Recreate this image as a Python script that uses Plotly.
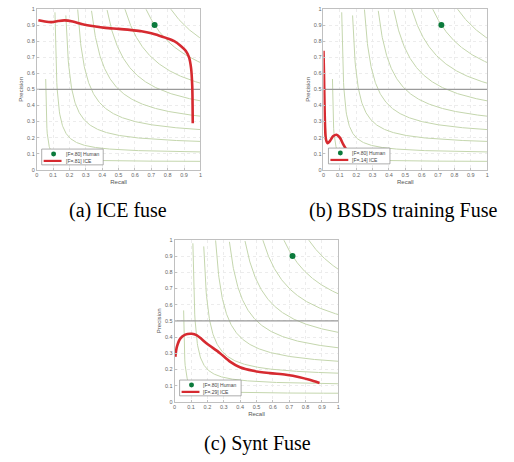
import numpy as np
import plotly.graph_objects as go

# Iso-F contour levels
f_levels = [0.1, 0.2, 0.3, 0.4, 0.5, 0.6, 0.7, 0.8, 0.9]

# Human agreement point
human_recall = [0.72]
human_precision = [0.90]
human_label = "[F=.80] Human"

# (a) ICE fuse
ice_recall = [0.01, 0.05, 0.09, 0.13, 0.17, 0.22, 0.28, 0.35, 0.42, 0.50, 0.58, 0.64,
              0.70, 0.74, 0.79, 0.84, 0.88, 0.91, 0.93, 0.943, 0.950, 0.952, 0.953]
ice_precision = [0.93, 0.922, 0.918, 0.925, 0.929, 0.922, 0.905, 0.892, 0.882, 0.876, 0.868, 0.861,
                 0.849, 0.837, 0.82, 0.80, 0.77, 0.74, 0.70, 0.63, 0.52, 0.40, 0.29]

# (b) BSDS training fuse
bsds_recall = [0.0, 0.003, 0.006, 0.01, 0.015, 0.025, 0.04, 0.06, 0.08, 0.10, 0.12, 0.14]
bsds_precision = [0.74, 0.60, 0.42, 0.26, 0.19, 0.165, 0.18, 0.21, 0.218, 0.20, 0.16, 0.125]

# (c) Synt fuse
synt_recall = [0.004, 0.014, 0.034, 0.065, 0.105, 0.136, 0.196, 0.277, 0.338, 0.399, 0.48,
               0.58, 0.68, 0.763, 0.824, 0.885]
synt_precision = [0.278, 0.34, 0.39, 0.415, 0.42, 0.41, 0.36, 0.30, 0.248, 0.213, 0.191,
                  0.177, 0.167, 0.152, 0.136, 0.116]

panels = [
    dict(name="(a) ICE fuse", f="[F=.81] ICE", r=ice_recall, p=ice_precision,
         dom_x=[35, 200], dom_y=[6, 169], leg=(40, 148), cap=(117, 210)),
    dict(name="(b) BSDS training Fuse", f="[F=.14] ICE", r=bsds_recall, p=bsds_precision,
         dom_x=[324, 489], dom_y=[6, 169], leg=(329, 147), cap=(404, 210)),
    dict(name="(c) Synt Fuse", f="[F=.29] ICE", r=synt_recall, p=synt_precision,
         dom_x=[174, 339], dom_y=[240, 404], leg=(179, 382), cap=(257, 446)),
]

W, H = 514, 462
RED = "#d62a30"
GREEN = "#0b7a3b"


def px(x):
    return x / W


def py(y):
    return 1 - y / H


fig = go.Figure()
tick_vals = [round(0.1 * i, 1) for i in range(11)]
tick_text = ["0"] + [f"{v:g}" for v in tick_vals[1:-1]] + ["1"]

layout = dict(width=W, height=H, margin=dict(l=0, r=0, t=0, b=0),
              paper_bgcolor="white", plot_bgcolor="white", showlegend=False)
shapes, annotations = [], []

for k, pan in enumerate(panels):
    sfx = "" if k == 0 else str(k + 1)
    xa, ya = "x" + sfx, "y" + sfx

    # iso-F curves
    for f in f_levels:
        r = np.linspace(f / 2 + 1e-4, 1, 400)
        p = f * r / (2 * r - f)
        m = p <= 1.0
        fig.add_trace(go.Scatter(x=r[m], y=p[m], mode="lines",
                                 line=dict(color="#c4d6ad", width=1.0),
                                 hoverinfo="skip", xaxis=xa, yaxis=ya))
    # P = 0.5 reference line
    fig.add_trace(go.Scatter(x=[0, 1], y=[0.5, 0.5], mode="lines",
                             line=dict(color="#9a9a9a", width=1.3), xaxis=xa, yaxis=ya))
    # human point
    fig.add_trace(go.Scatter(x=human_recall, y=human_precision, mode="markers",
                             marker=dict(color=GREEN, size=6),
                             name=human_label, xaxis=xa, yaxis=ya))
    # method curve
    fig.add_trace(go.Scatter(x=pan["r"], y=pan["p"], mode="lines",
                             line=dict(color=RED, width=2.6, shape="spline", smoothing=0.8),
                             name=pan["f"], xaxis=xa, yaxis=ya))

    ax_common = dict(range=[0, 1], tickvals=tick_vals, ticktext=tick_text,
                     tickfont=dict(size=5.5, color="#666", family="Liberation Sans"),
                     showgrid=True, gridcolor="#ececec", griddash="dot", gridwidth=0.6,
                     zeroline=False, showline=True, linecolor="#c0c0c0", linewidth=0.8,
                     mirror=True, ticks="inside", ticklen=2, tickcolor="#c0c0c0",
                     fixedrange=True)
    layout["xaxis" + sfx] = dict(ax_common, anchor=ya,
                                 domain=[px(pan["dom_x"][0]), px(pan["dom_x"][1])],
                                 title=dict(text="Recall", standoff=2,
                                            font=dict(size=6, color="#555", family="Liberation Sans")))
    layout["yaxis" + sfx] = dict(ax_common, anchor=xa,
                                 domain=[py(pan["dom_y"][1]), py(pan["dom_y"][0])],
                                 title=dict(text="Precision", standoff=2,
                                            font=dict(size=6, color="#555", family="Liberation Sans")))

    # compact legend box in the lower-left corner
    bx, by = pan["leg"]
    bw, bh = 62, 16
    shapes.append(dict(type="rect", xref="paper", yref="paper",
                       x0=px(bx), x1=px(bx + bw), y0=py(by + bh), y1=py(by),
                       fillcolor="white", line=dict(color="#8a8a8a", width=0.7), layer="above"))
    shapes.append(dict(type="circle", xref="paper", yref="paper",
                       x0=px(bx + 9.5), x1=px(bx + 14.5), y0=py(by + 7.5), y1=py(by + 2.5),
                       fillcolor=GREEN, line=dict(width=0), layer="above"))
    shapes.append(dict(type="line", xref="paper", yref="paper",
                       x0=px(bx + 2), x1=px(bx + 20), y0=py(by + 12), y1=py(by + 12),
                       line=dict(color=RED, width=2.2), layer="above"))
    for txt, ty in ((human_label, by + 5), (pan["f"], by + 12)):
        annotations.append(dict(x=px(bx + 22), y=py(ty), xref="paper", yref="paper",
                                text=txt, showarrow=False, xanchor="left", yanchor="middle",
                                font=dict(size=5, color="#444", family="Liberation Sans")))

    # panel caption
    cx, cy = pan["cap"]
    annotations.append(dict(x=px(cx), y=py(cy), xref="paper", yref="paper",
                            text=pan["name"], showarrow=False, xanchor="center", yanchor="middle",
                            font=dict(size=20, color="black", family="Times New Roman")))

layout["shapes"] = shapes
layout["annotations"] = annotations
fig.update_layout(**layout)

fig.write_html("out.html")
